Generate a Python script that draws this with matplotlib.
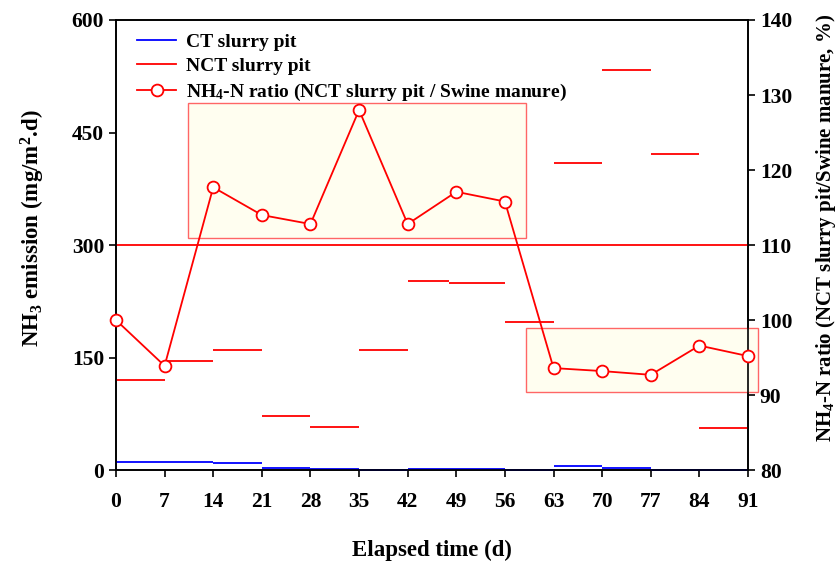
import numpy as np
import matplotlib
matplotlib.use('Agg')
import matplotlib.pyplot as plt
from matplotlib.patches import Rectangle
from matplotlib.lines import Line2D

plt.rcParams['font.family'] = ['Liberation Serif', 'DejaVu Serif']
plt.rcParams['font.weight'] = 'bold'
plt.rcParams['axes.labelweight'] = 'bold'
plt.rcParams['mathtext.fontset'] = 'custom'
plt.rcParams['mathtext.rm'] = 'Liberation Serif:bold'
plt.rcParams['mathtext.default'] = 'rm'

## step edges (days) for the emission measurements
edges = [0, 7, 14, 21, 28, 35, 42, 48, 56, 63, 70, 77, 84, 91]
ct_pit = [10.6, 10.6, 9.3, 2.6, 1.0, 0.0, 1.0, 1.0, 0.0, 6.0, 2.6, 0.0, 0.0]
nct_pit = [120, 145, 160, 72, 57, 160, 252, 250, 197, 409, 533, 421, 56]

## NH4-N ratio (right axis)
days = [0, 7, 14, 21, 28, 35, 42, 49, 56, 63, 70, 77, 84, 91]
ratio = [100.0, 93.9, 117.7, 114.0, 112.8, 128.0, 112.8, 117.1, 115.8, 93.6, 93.2, 92.7, 96.6, 95.2]

ref_level = 300  # red reference line (left axis)
# highlighted periods: (day start, day end, ratio low, ratio high)
boxes = [(10.4, 59.1, 110.9, 129.0), (59.1, 92.5, 90.4, 98.9)]

fig = plt.figure(figsize=(8.38, 5.63), dpi=100)
ax = fig.add_axes([0.1384, 0.165, 0.7542, 0.7995])
ax2 = ax.twinx()

lo = np.array(edges[:-1])
hi = np.array(edges[1:])
ax.hlines(ct_pit, lo, hi, colors='#0000ff', lw=1.3, zorder=3, clip_on=False)
ax.hlines(nct_pit, lo, hi, colors='#ff0000', lw=1.3, zorder=3)
ax.axhline(ref_level, color='#ff0000', lw=1.3, zorder=3)

for x0, x1, y0, y1 in boxes:
    ax2.add_patch(Rectangle((x0, y0), x1 - x0, y1 - y0, facecolor='#fffef0',
                            edgecolor='#ff6666', lw=1.0, zorder=1, clip_on=False))
ax2.plot(days, ratio, color='#ff0000', lw=1.3, marker='o', ms=8.5,
         mfc='white', mec='#ff0000', mew=1.3, zorder=5, clip_on=False)

ax.set_xlim(0, 91)
ax.set_ylim(0, 600)
ax2.set_ylim(80, 140)
ax.set_xticks(days)
ax.set_yticks([0, 150, 300, 450, 600])
ax2.set_yticks([80, 90, 100, 110, 120, 130, 140])

for a in (ax, ax2):
    a.tick_params(direction='out', length=5, width=1.2, labelsize=15.5)
    for s in a.spines.values():
        s.set_linewidth(1.2)
ax.tick_params(axis='x', pad=11)

ax.set_xlabel('Elapsed time (d)', fontsize=16.5, labelpad=20)
ax.set_ylabel('NH$_3$ emission (mg/m$^2$.d)', fontsize=16.5, va='center')
ax2.set_ylabel('NH$_4$-N ratio (NCT slurry pit/Swine manure, %)', fontsize=15,
               rotation=90, va='center')
ax.yaxis.set_label_coords(-0.131, 0.538)
ax2.yaxis.set_label_coords(1.124, 0.538)

handles = [Line2D([], [], color='#0000ff', lw=1.3),
           Line2D([], [], color='#ff0000', lw=1.3),
           Line2D([], [], color='#ff0000', lw=1.3, marker='o', ms=8.5, mfc='white', mew=1.3)]
labels = ['CT slurry pit', 'NCT slurry pit', 'NH$_4$-N ratio (NCT slurry pit / Swine manure)']
leg = ax2.legend(handles, labels, loc='upper left', bbox_to_anchor=(0.006, 1.01),
                 frameon=False, fontsize=14, handlelength=2.0, handletextpad=0.5,
                 labelspacing=0.35)
leg.set_zorder(10)

plt.savefig('out.png', dpi=100)
